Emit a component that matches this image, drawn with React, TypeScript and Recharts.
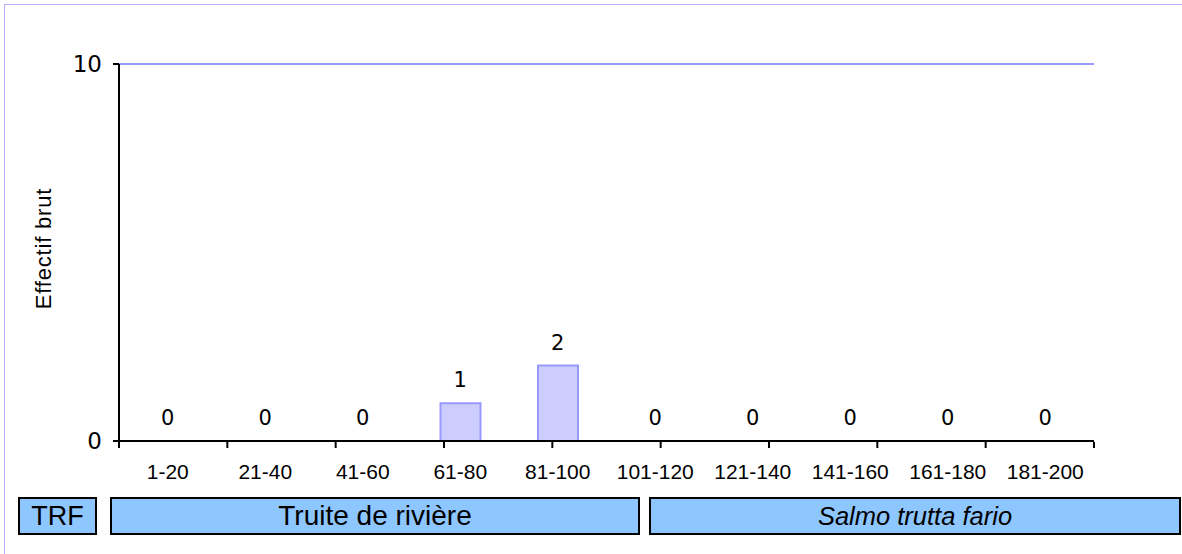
import React from "react";
import {
    ComposedChart,
    Bar,
    Line,
    XAxis,
    YAxis,
    ReferenceLine,
    LabelList,
    Label,
} from "recharts";

// size classes (mm) and raw counts
const categories = ["1-20", "21-40", "41-60", "61-80", "81-100", "101-120", "121-140", "141-160", "161-180", "181-200"];
const counts = [0, 0, 0, 1, 2, 0, 0, 0, 0, 0];
const yTicks = [0, 10];
const classEdges = [0, 1, 2, 3, 4, 5, 6, 7, 8, 9, 10];

const speciesCode = "TRF";
const speciesName = "Truite de rivière";
const latinName = "Salmo trutta fario";

const data = categories.map((c, i) => ({ classe: c, effectif: counts[i] }));

const numFont = "'DejaVu Sans', sans-serif";
const textFont = "'Liberation Sans', Arial, sans-serif";

const boxStyle: React.CSSProperties = {
    position: "absolute",
    top: 497,
    height: 38,
    boxSizing: "border-box",
    background: "#8ec6ff",
    border: "2px solid #000",
    display: "flex",
    alignItems: "center",
    justifyContent: "center",
    fontFamily: textFont,
    fontSize: 27,
    color: "#000",
};

export default function App() {
    return (
        <div style={{ position: "absolute", left: 0, top: 0, width: 1182, height: 554, background: "#fff", overflow: "hidden" }}>
            {/* outer frame, only top and left edges visible */}
            <div style={{ position: "absolute", left: 4, top: 4, width: 1200, height: 600, border: "1px solid #b3b3ff" }} />

            <div style={{ position: "absolute", left: 0, top: 0 }}>
                <ComposedChart
                    width={1182}
                    height={554}
                    data={data}
                    margin={{ top: 64, right: 88, bottom: 82, left: 0 }}
                >
                    {/* class labels: axis kept 1px high so the edge ticks sit right under the plot */}
                    <XAxis
                        dataKey="classe"
                        height={1}
                        interval={0}
                        tickLine={false}
                        tickSize={0}
                        tickMargin={23}
                        axisLine={false}
                        tick={{ fill: "#000", fontSize: 21, fontFamily: textFont }}
                    />
                    {/* boundary ticks between classes */}
                    <XAxis
                        xAxisId="edges"
                        type="number"
                        domain={[0, 10]}
                        ticks={classEdges}
                        interval={0}
                        height={30}
                        axisLine={false}
                        tickFormatter={() => ""}
                        tickSize={6}
                        tickLine={{ stroke: "#000", strokeWidth: 2 }}
                    />
                    <YAxis
                        width={119}
                        domain={[0, 10]}
                        ticks={yTicks}
                        tickSize={6}
                        tickMargin={11}
                        axisLine={{ stroke: "#000", strokeWidth: 2 }}
                        tickLine={{ stroke: "#000", strokeWidth: 2 }}
                        tick={{ fill: "#000", fontSize: 23, fontFamily: numFont }}
                    >
                        <Label
                            value="Effectif brut"
                            angle={-90}
                            position="insideLeft"
                            offset={43}
                            dy={-4}
                            fontSize={22}
                            fontFamily={textFont}
                            fill="#000"
                            letterSpacing={0.8}
                            style={{ textAnchor: "middle" }}
                        />
                    </YAxis>
                    <ReferenceLine y={10} stroke="#9999ff" strokeWidth={2} />
                    <ReferenceLine y={0} stroke="#000" strokeWidth={2} />
                    <Bar
                        dataKey="effectif"
                        barSize={40}
                        fill="#ccccff"
                        stroke="#9999ff"
                        strokeWidth={2}
                        isAnimationActive={false}
                    />
                    {/* invisible series carrying the value labels, zeros included */}
                    <Line
                        dataKey="effectif"
                        stroke="none"
                        dot={false}
                        activeDot={false}
                        legendType="none"
                        isAnimationActive={false}
                    >
                        <LabelList
                            dataKey="effectif"
                            position="top"
                            offset={16}
                            fill="#000"
                            fontSize={21}
                            fontFamily={numFont}
                        />
                    </Line>
                </ComposedChart>
            </div>

            <div style={{ ...boxStyle, left: 18, width: 79 }}>{speciesCode}</div>
            <div style={{ ...boxStyle, left: 110, width: 530, fontSize: 28 }}>{speciesName}</div>
            <div style={{ ...boxStyle, left: 649, width: 532, fontSize: 25.5, fontStyle: "italic" }}>{latinName}</div>
        </div>
    );
}
